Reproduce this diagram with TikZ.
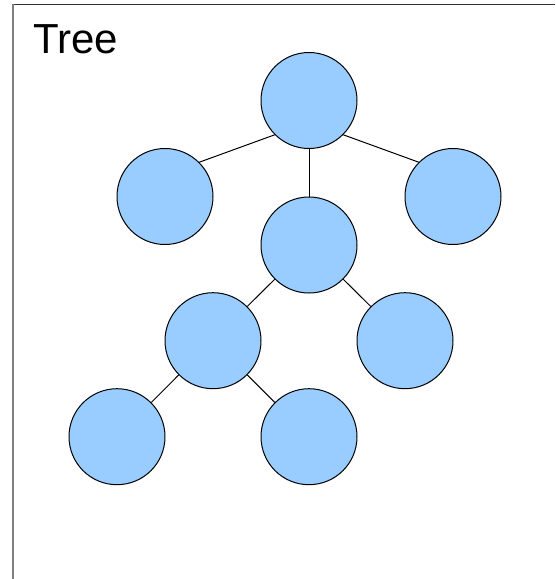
\documentclass[tikz,border=0pt]{standalone}
\usepackage{fontspec}
\setmainfont{Liberation Sans}
\definecolor{nodefill}{HTML}{99CCFF}
\begin{document}
\begin{tikzpicture}[x=1pt,y=-1pt,
  treenode/.style={circle,draw=black,fill=nodefill,line width=1pt,minimum size=96pt,inner sep=0pt},
  link/.style={draw=black,line width=1pt}]
\useasboundingbox (0,0) rectangle (555,579);
% frame
\draw[line width=1.6pt,color=black!80] (12,4.5) -- (555,4.5);
\draw[line width=2pt,color=black!50] (13,4) -- (13,579);
% title
\node[anchor=base west,inner sep=0pt,font=\fontsize{42}{48}\selectfont] (title) at (33,53) {Tree};
% nodes
\node[treenode] (root) at (309,100.5) {};
\node[treenode] (a) at (165,196.5) {};
\node[treenode] (b) at (453,196.5) {};
\node[treenode] (c) at (309,245) {};
\node[treenode] (ca) at (213,340.7) {};
\node[treenode] (cb) at (405,340.7) {};
\node[treenode] (caa) at (117,436.7) {};
\node[treenode] (cab) at (309,436.7) {};
% links, attached at the diagonal anchors of the circles
\draw[link] (root.south west) -- (a.north east);
\draw[link] (root.south east) -- (b.north west);
\draw[link] (root.south) -- (c.north);
\draw[link] (c.south west) -- (ca.north east);
\draw[link] (c.south east) -- (cb.north west);
\draw[link] (ca.south west) -- (caa.north east);
\draw[link] (ca.south east) -- (cab.north west);
\end{tikzpicture}
\end{document}
